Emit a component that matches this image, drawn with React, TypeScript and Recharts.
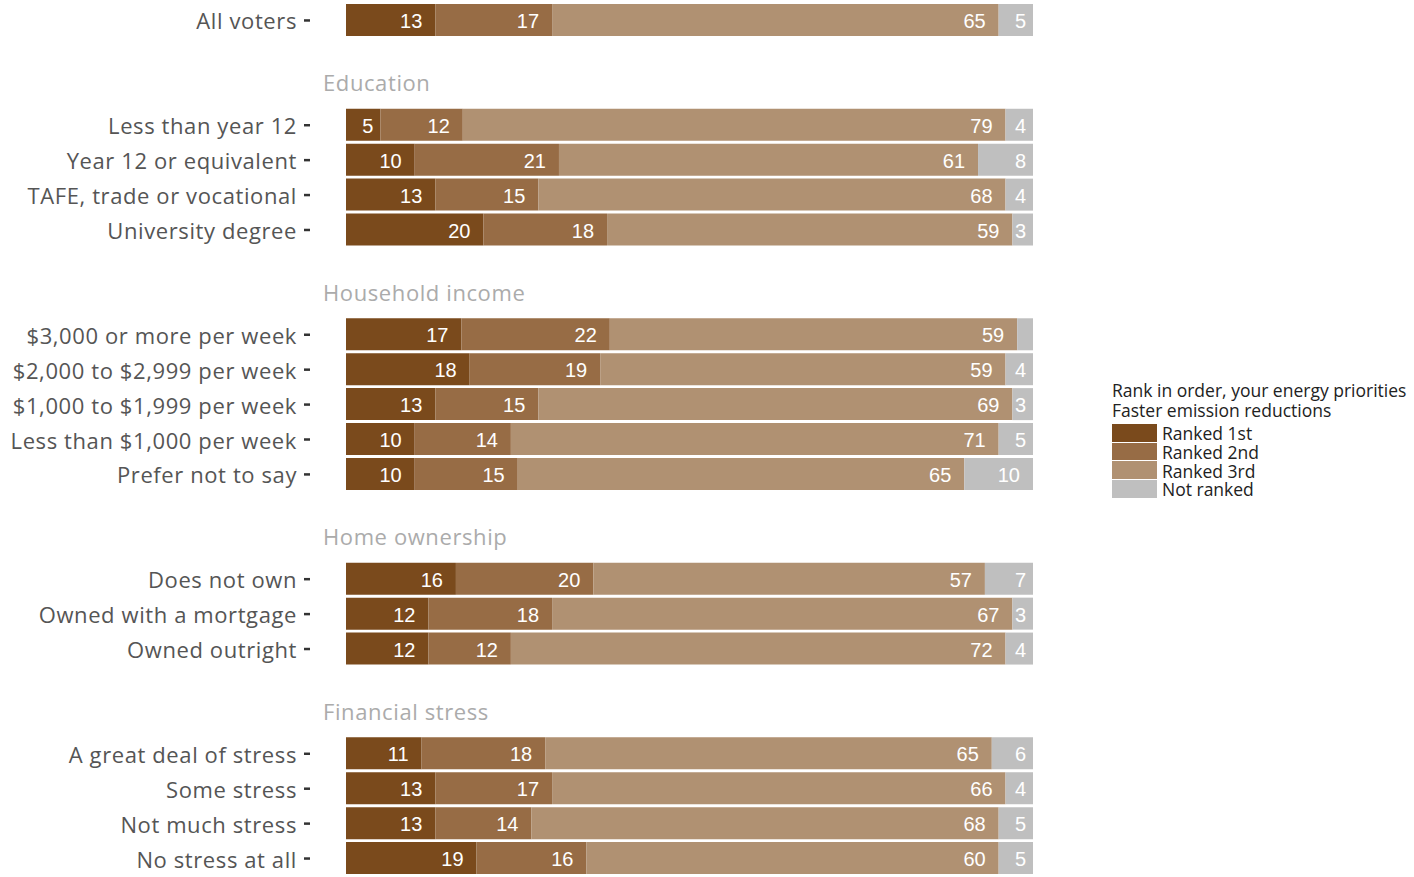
import React from 'react';
import { BarChart, Bar, XAxis, YAxis, LabelList, Legend } from 'recharts';

const sectionTitles = ['', 'Education', 'Household income', 'Home ownership', 'Financial stress'];
const sectionSizes = [1, 4, 5, 3, 4];
const rowLabels = [
  'All voters',
  'Less than year 12',
  'Year 12 or equivalent',
  'TAFE, trade or vocational',
  'University degree',
  '$3,000 or more per week',
  '$2,000 to $2,999 per week',
  '$1,000 to $1,999 per week',
  'Less than $1,000 per week',
  'Prefer not to say',
  'Does not own',
  'Owned with a mortgage',
  'Owned outright',
  'A great deal of stress',
  'Some stress',
  'Not much stress',
  'No stress at all',
];
const ranked1st = [13, 5, 10, 13, 20, 16.8, 18, 13, 10, 10, 16, 12, 12, 11, 13, 13, 19];
const ranked2nd = [17, 12, 21, 15, 18, 21.6, 19, 15, 14, 15, 20, 18, 12, 18, 17, 14, 16];
const ranked3rd = [65, 79, 61, 68, 59, 59.3, 59, 69, 71, 65, 57, 67, 72, 65, 66, 68, 60];
const notRanked = [5, 4, 8, 4, 3, 2.3, 4, 3, 5, 10, 7, 3, 4, 6, 4, 5, 5];

const seriesKeys = ['r1', 'r2', 'r3', 'nr'];
const seriesNames = ['Ranked 1st', 'Ranked 2nd', 'Ranked 3rd', 'Not ranked'];
const seriesColors = ['#7A4A1C', '#976C45', '#B09172', '#BFBFBF'];
const legendTitle = ['Rank in order, your energy priorities', 'Faster emission reductions'];

type Row = { key: string; label?: string; header?: string; r1?: number; r2?: number; r3?: number; nr?: number };

const data: Row[] = [];
{
  let idx = 0;
  sectionTitles.forEach((title, s) => {
    if (title) {
      data.push({ key: 'gap' + s });
      data.push({ key: 'hdr' + s, header: title });
    }
    for (let k = 0; k < sectionSizes[s]; k++) {
      data.push({
        key: 'row' + idx,
        label: rowLabels[idx],
        r1: ranked1st[idx],
        r2: ranked2nd[idx],
        r3: ranked3rd[idx],
        nr: notRanked[idx],
      });
      idx++;
    }
  });
}
const byKey = new Map(data.map((d) => [d.key, d]));

const AXIS_FONT = '"Open Sans", Lato, sans-serif';
const LABEL_FONT = '"Liberation Sans", Arial, sans-serif';

const YTick = (props: any) => {
  const { x, y, payload } = props;
  const row = byKey.get(payload.value);
  if (!row) return null;
  if (row.header) {
    return (
      <text x={x - 23} y={y - 8} textAnchor="start" dominantBaseline="central" fill="#ababab" fontSize={22} letterSpacing={0.6} fontFamily={AXIS_FONT}>
        {row.header}
      </text>
    );
  }
  if (row.label) {
    return (
      <g>
        <text x={x - 49} y={y} textAnchor="end" dominantBaseline="central" fill="#555555" fontSize={22} letterSpacing={0.6} fontFamily={AXIS_FONT}>
          {row.label}
        </text>
        <line x1={x - 42} x2={x - 36} y1={y} y2={y} stroke="#333333" strokeWidth={2.5} />
      </g>
    );
  }
  return null;
};

const BarLabel = (props: any) => {
  const { x, y, width, height, value } = props;
  if (value == null || value < 3) return null;
  const txt = String(Math.round(value));
  const pad = txt.length === 1 ? 7 : 13;
  return (
    <text
      x={x + width - pad}
      y={y + height / 2 + 1}
      textAnchor="end"
      dominantBaseline="central"
      fill="#ffffff"
      fontSize={20}
      fontFamily={LABEL_FONT}
    >
      {txt}
    </text>
  );
};

const LegendContent = () => (
  <div style={{ fontFamily: AXIS_FONT, fontSize: 17.5, color: '#222222', lineHeight: '20px' }}>
    {legendTitle.map((t) => (
      <div key={t} style={{ whiteSpace: 'nowrap' }}>{t}</div>
    ))}
    <div style={{ marginTop: 4 }}>
      {seriesNames.map((n, i) => (
        <div key={n} style={{ display: 'flex', alignItems: 'center', height: 18.7, whiteSpace: 'nowrap' }}>
          <div style={{ width: 45, height: 17.7, background: seriesColors[i], marginRight: 5, marginBottom: 1 }} />
          <span style={{ lineHeight: '18px' }}>{n}</span>
        </div>
      ))}
    </div>
  </div>
);

export default function App() {
  return (
    <div style={{ position: 'absolute', left: 0, top: 0, width: 1414, height: 877, background: '#ffffff' }}>
      <BarChart
        width={1414}
        height={877}
        data={data}
        layout="vertical"
        margin={{ top: 3, right: 381, bottom: 1, left: 0 }}
        barSize={32}
      >
        <XAxis type="number" domain={[0, 100]} hide />
        <YAxis
          type="category"
          dataKey="key"
          width={346}
          axisLine={false}
          tickLine={false}
          tickSize={0}
          tickMargin={0}
          interval={0}
          tick={<YTick />}
        />
        <Legend
          content={<LegendContent />}
          layout="horizontal"
          align="center"
          verticalAlign="middle"
          wrapperStyle={{ left: 1112, top: 380, width: 300 }}
        />
        {seriesKeys.map((k, i) => (
          <Bar key={k} dataKey={k} name={seriesNames[i]} stackId="a" fill={seriesColors[i]} isAnimationActive={false}>
            <LabelList dataKey={k} content={<BarLabel />} />
          </Bar>
        ))}
      </BarChart>
    </div>
  );
}
